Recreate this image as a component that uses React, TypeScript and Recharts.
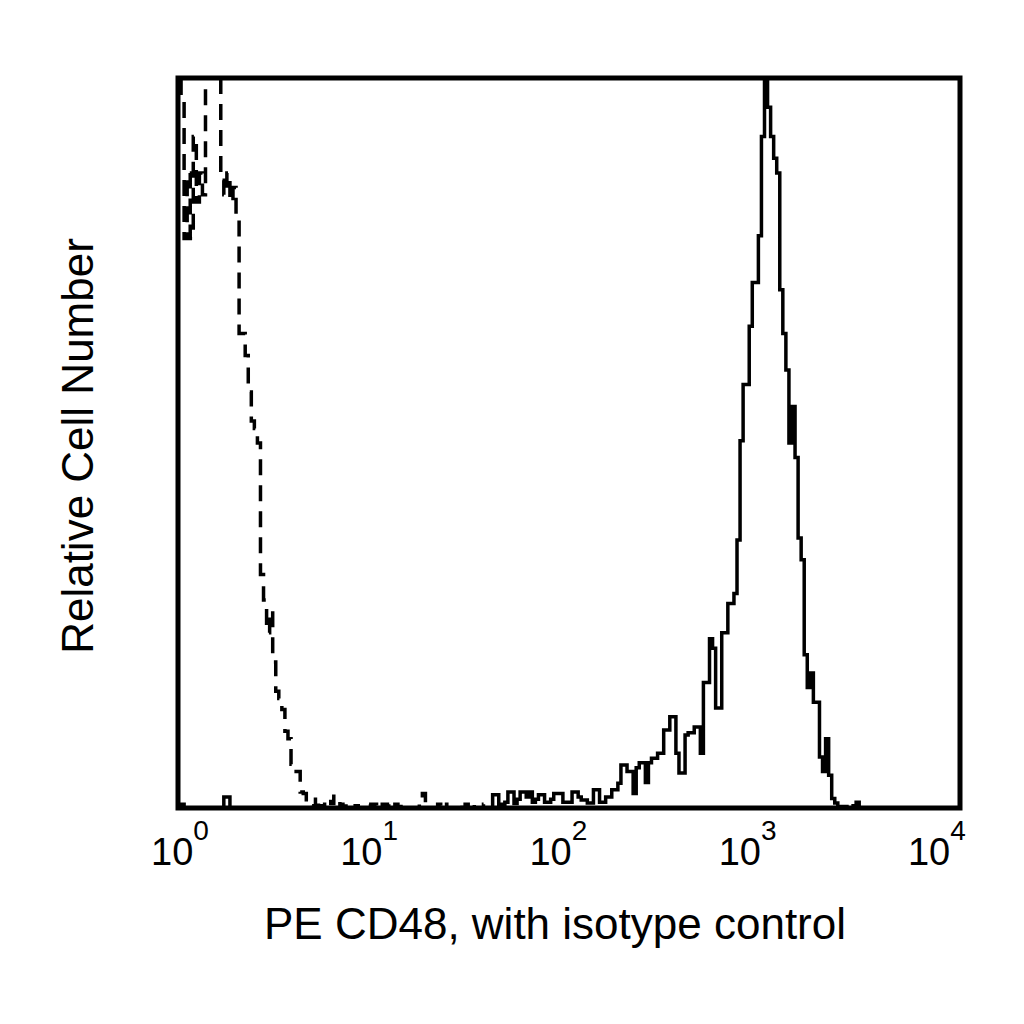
import React from "react";
import {
  LineChart,
  Line,
  XAxis,
  YAxis,
  ReferenceArea,
} from "recharts";

// histogram channels: 64 per decade over 4 decades (256 channels)
const channelsPerDecade = 64;
const channelCount = 256;

// PE CD48 stained cells (solid line), counts per channel from channel 0
const cd48Counts = [
  0, 0.5, 0, 0, 0, 0, 0, 0, 0, 0, 0, 0, 0, 0, 0, 1.5, 1.5, 0, 0, 0,
  0, 0, 0, 0, 0, 0, 0, 0, 0, 0, 0, 0, 0, 0, 0, 0, 0, 0, 0, 0,
  0, 0, 0, 0, 0, 0, 0, 0, 0, 0, 0, 0, 0, 0, 0, 0, 0, 0, 0, 0,
  0, 0, 0, 0, 0, 0, 0, 0, 0, 0, 0, 0, 0, 0, 0, 0, 0, 0, 0, 0,
  0, 0, 0, 0, 0, 0, 0, 0, 0, 0, 0, 0, 0, 0, 0, 0, 0, 0, 0, 0,
  0, 0, 0, 1.8, 1.8, 0.5, 0.3, 0.8, 2.2, 2.2, 0.6, 1.2, 2.2, 2.2, 1.5, 2.2, 0.8, 1.2, 1.8, 1.8,
  0.8, 0.8, 1.2, 2, 2, 2, 0.8, 0.8, 0.8, 2.2, 2.2, 1.5, 1.1, 1.1, 0.7, 0.7, 2.5, 2.5, 0.8, 0.8,
  1.5, 1.5, 2.5, 2.5, 3.4, 5.9, 5.9, 5, 5, 2, 5.5, 6.2, 6.2, 3.5, 6.2, 6.8, 6.8, 7.5, 7.5, 10.7,
  10.7, 12.5, 12.5, 7.5, 4.8, 4.8, 10, 10.3, 10.3, 11.1, 11.1, 7.5, 17.2, 17.2, 23.2, 21.9, 13.7, 13.7, 24, 24,
  28, 28, 29.4, 36.7, 50.3, 58, 58, 66, 72, 72, 78.4, 92, 104, 96, 92, 89, 87, 71, 65, 60,
  50, 55, 48, 37, 34, 21, 16.5, 18.5, 14.5, 14.5, 7, 5, 9.5, 4.5, 1.3, 0.7, 0.2, 0.2, 0.2, 0,
  0, 0.3, 0.8, 0,
];

// isotype control (dashed line), counts per channel from channel 0
const isotypeCounts = [
  103, 97, 78, 87, 78, 92, 83, 87, 84, 104, 104, 104, 102, 104, 86, 84, 87, 83, 85, 81,
  65, 65, 62, 57, 53, 52, 50, 32, 28.5, 24, 27, 20, 16, 15, 13.5, 10.5, 9.5, 6, 5, 5,
  2.2, 2, 0.8, 0.3, 0, 1.5, 0.3, 0, 0.5, 1.2, 0.6, 1.6, 1, 0.5, 0, 0.6, 0, 0, 0.3, 0,
  0, 0, 0.5, 0, 0.5, 0, 0.5, 0.5, 0, 0.5, 0, 0.5, 0, 0.5, 0, 0, 0, 0, 0, 0.6,
  2, 0.6, 0, 0, 0, 0.5, 0, 0.5, 0, 0, 0, 0, 0.5, 0, 0.5, 0, 0.5, 0, 0, 0,
  0.5, 0.6, 0,
];

const decadeTicks = [1, 10, 100, 1000, 10000];
const decadeExponents = ["0", "1", "2", "3", "4"];

const table = Array.from({ length: channelCount }, (_, ch) => ({
  x: Math.pow(10, ch / channelsPerDecade),
  cd48: cd48Counts[ch] ?? 0,
  isotype: isotypeCounts[ch] ?? 0,
}));

const font = '"Liberation Sans", Arial, sans-serif';

function DecadeTick(props: any) {
  const { x, y, payload } = props;
  const i = decadeTicks.indexOf(payload.value);
  // labels sit a little left of the decade marks, as in the original
  const lx = 170 + (x - 170) * 0.968 - 27;
  return (
    <text x={lx} y={y + 57} fontFamily={font} fontSize={38} fill="#000">
      10
      <tspan fontSize={28} dy={-25}>
        {decadeExponents[i]}
      </tspan>
    </text>
  );
}

function XTitle() {
  return (
    <text x={547} y={931} textAnchor="middle" fontFamily={font} fontSize={44} fill="#000">
      PE CD48, with isotype control
    </text>
  );
}

function YTitle() {
  return (
    <text
      x={85}
      y={438}
      transform="rotate(-90 85 438)"
      textAnchor="middle"
      fontFamily={font}
      fontSize={44}
      fill="#000"
    >
      Relative Cell Number
    </text>
  );
}

export default function App() {
  return (
    <div style={{ width: 1008, height: 1008, background: "#fff" }}>
      <LineChart
        width={1008}
        height={1008}
        data={table}
        margin={{ top: 70, right: 56, left: 0, bottom: 0 }}
      >
        <XAxis
          dataKey="x"
          type="number"
          scale="log"
          domain={[1, 10000]}
          allowDataOverflow
          ticks={decadeTicks}
          interval={0}
          height={208}
          axisLine={false}
          tickLine={false}
          tickSize={0}
          tickMargin={0}
          tick={<DecadeTick />}
          label={<XTitle />}
        />
        <YAxis
          type="number"
          domain={[0, 100]}
          allowDataOverflow
          width={170}
          tick={false}
          axisLine={false}
          tickLine={false}
          label={<YTitle />}
        />
        <Line
          dataKey="isotype"
          type="stepAfter"
          stroke="#000"
          strokeWidth={3.5}
          strokeDasharray="16 10"
          dot={false}
          isAnimationActive={false}
        />
        <Line
          dataKey="cd48"
          type="stepAfter"
          stroke="#000"
          strokeWidth={3.5}
          dot={false}
          isAnimationActive={false}
        />
        <ReferenceArea
          x1={1}
          x2={10000}
          y1={0}
          y2={100}
          fill="none"
          stroke="#000"
          strokeWidth={5}
          fillOpacity={0}
          ifOverflow="visible"
        />
      </LineChart>
    </div>
  );
}
